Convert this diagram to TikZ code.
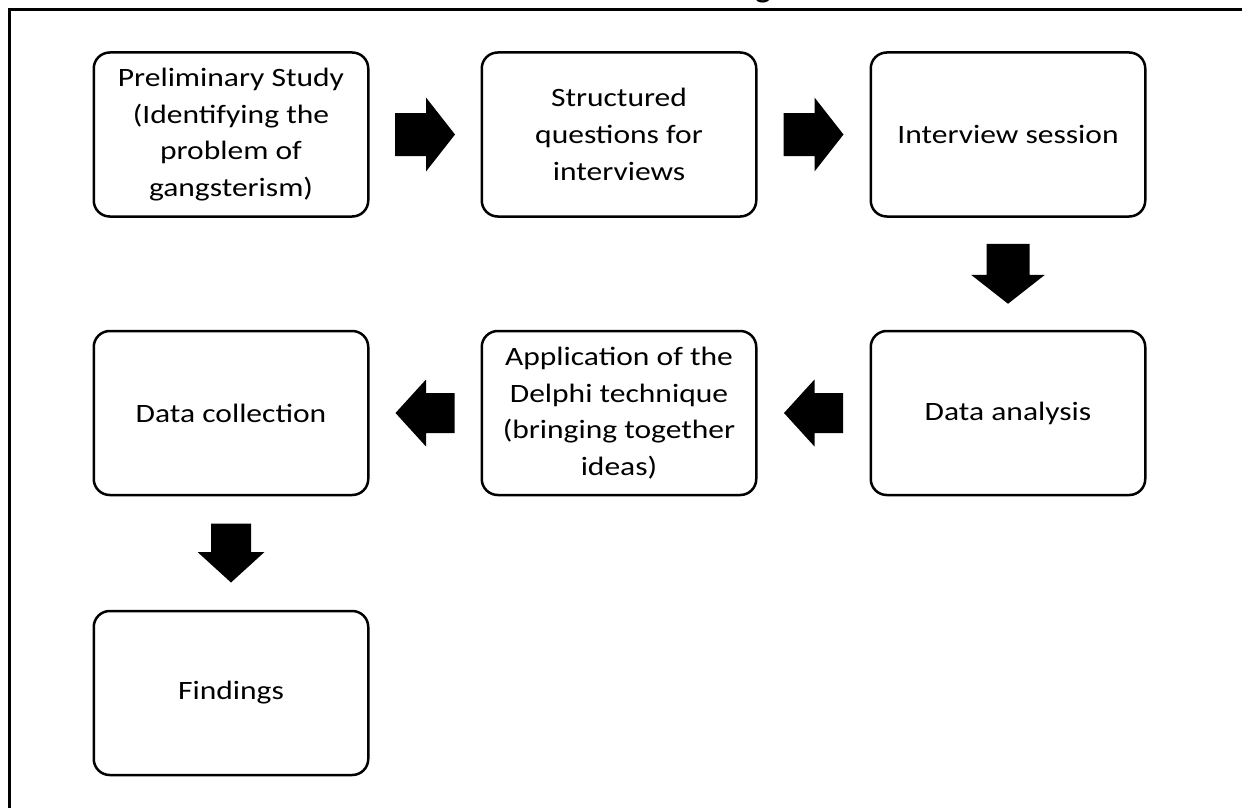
\documentclass[tikz,border=0pt]{standalone}
\usepackage{fontspec}
\setmainfont{Carlito}[FakeStretch=1.19]
\usetikzlibrary{calc}
\tikzset{
  stepbox/.style={draw, line width=2.5pt, rounded corners=16pt,
    minimum width=274.5pt, minimum height=164pt, inner sep=0pt,
    align=center, font=\fontsize{26.5}{36.7}\selectfont},
  blockarrow/.pic={\fill[black] (-30,-21.5) -- (1,-21.5) -- (1,-37) -- (30,0)
      -- (1,37) -- (1,21.5) -- (-30,21.5) -- cycle;},
  smallarrow/.pic={\fill[black] (-29.5,-20) -- (-1,-20) -- (-1,-33.5) -- (29.5,0)
      -- (-1,33.5) -- (-1,20) -- (-29.5,20) -- cycle;},
  frameline/.style={line width=3pt, line join=miter}
}
\begin{document}
\begin{tikzpicture}[x=1pt, y=-1pt]
\useasboundingbox (0,0) rectangle (1242,808);
\fill[white] (0,0) rectangle (1242,808);
% frame and cut-off title
\draw[frameline] (9,812) -- (9,9.5) -- (1246,9.5);
\node[anchor=base, inner sep=0pt, font=\bfseries\fontsize{26.5}{30}\selectfont] (title) at (763,-1) {g};
% boxes
\node[stepbox] (b1) at (231,134.5) {Preliminary Study\\(Identifying the\\problem of\\gangsterism)};
\node[stepbox] (b2) at (619,134.5) {Structured\\questions for\\interviews};
\node[stepbox] (b3) at (1008,134.5) {Interview session};
\node[stepbox] (b4) at (1008,413) {Data analysis};
\node[stepbox] (b5) at (619,413) {Application of the\\Delphi technique\\(bringing together\\ideas)};
\node[stepbox] (b6) at (231,413) {Data collection};
\node[stepbox] (b7) at (231,693) {Findings};
% block arrows between boxes
\pic at ($(b1.east)!0.5!(b2.west)$) {blockarrow};
\pic at ($(b2.east)!0.5!(b3.west)$) {blockarrow};
\pic[rotate=-90] at ($(b3.south)!0.5!(b4.north)$) {blockarrow};
\pic[rotate=180] at ($(b4.west)!0.5!(b5.east)$) {smallarrow};
\pic[rotate=180] at ($(b5.west)!0.5!(b6.east)$) {smallarrow};
\pic[rotate=-90] at ($(b6.south)!0.5!(b7.north)$) {smallarrow};
\end{tikzpicture}
\end{document}
